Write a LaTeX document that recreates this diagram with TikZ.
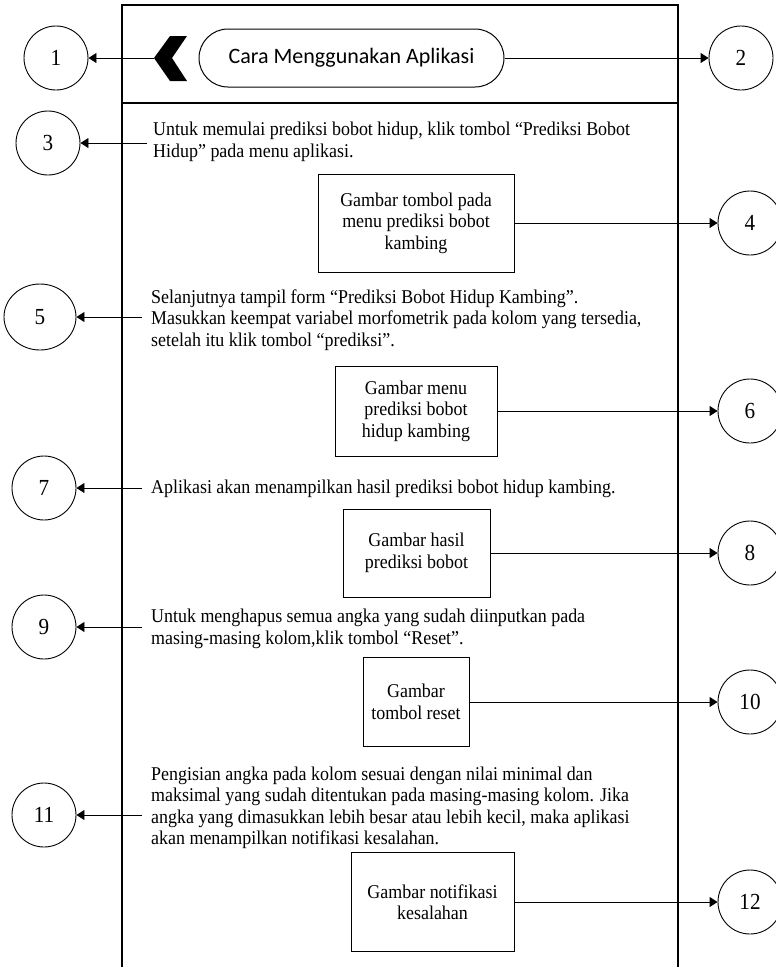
\documentclass[tikz,border=0pt]{standalone}
\usepackage{fontspec}
\setmainfont[FakeStretch=0.92]{Liberation Serif}
\newfontfamily\hdrfont{Carlito}
\usetikzlibrary{arrows.meta,shapes.geometric}
\begin{document}
\begin{tikzpicture}[x=1pt,y=-1pt,
  frameline/.style={line width=1.3pt},
  num/.style={draw, circle, minimum size=64pt, inner sep=0pt, line width=0.9pt, font=\fontsize{23}{25}\selectfont},
  imgbox/.style={draw, rectangle, line width=1pt, align=center, inner sep=0pt, font=\fontsize{19.5}{21.5}\selectfont},
  desc/.style={anchor=west, align=left, inner sep=0pt, font=\fontsize{19.5}{21.5}\selectfont},
  conn/.style={line width=0.9pt, -{Triangle[length=8pt,width=10pt]}},
]
\useasboundingbox (0,0) rectangle (776,967);
\clip (0,0) rectangle (776,967);

% phone frame
\draw[frameline] (122,967) -- (122,5) -- (678,5) -- (678,967);
\draw[frameline] (122,103) -- (678,103);

% header
\fill (170,36) -- (187,36) -- (172,58) -- (187,81) -- (170,81) -- (154,58) -- cycle;
\coordinate (chev) at (154,58);
\node[draw, line width=1pt, rounded corners=29pt, minimum width=305pt, minimum height=58pt,
      font=\hdrfont\fontsize{22}{24}\selectfont] (title) at (351.5,58) {Cara Menggunakan Aplikasi};

% numbered circles
\node[num] (c1) at (56,58) {1};
\node[num] (c2) at (741,58) {2};
\node[num] (c3) at (48,143) {3};
\node[num, shape=ellipse, minimum width=72pt, minimum height=66pt] (c5) at (40,317) {5};
\node[num] (c7) at (44,488) {7};
\node[num] (c9) at (44,627) {9};
\node[num] (c11) at (44,815) {11};
\node[num] (c4) at (750,223) {4};
\node[num] (c6) at (750,411) {6};
\node[num] (c8) at (750,553) {8};
\node[num] (c10) at (750,702) {10};
\node[num] (c12) at (750,902) {12};

% descriptions
\node[desc] (t3) at (153,142) {Untuk memulai prediksi bobot hidup, klik tombol “Prediksi Bobot\\Hidup” pada menu aplikasi.};
\node[desc] (t5) at (151,320) {Selanjutnya tampil form “Prediksi Bobot Hidup Kambing”.\\Masukkan keempat variabel morfometrik pada kolom yang tersedia,\\setelah itu klik tombol “prediksi”.};
\node[desc] (t7) at (151,489) {Aplikasi akan menampilkan hasil prediksi bobot hidup kambing.};
\node[desc] (t9) at (151,629) {Untuk menghapus semua angka yang sudah diinputkan pada\\masing-masing kolom,klik tombol “Reset”.};
\node[desc] (t11) at (151,808) {Pengisian angka pada kolom sesuai dengan nilai minimal dan\\maksimal yang sudah ditentukan pada masing-masing kolom. Jika\\angka yang dimasukkan lebih besar atau lebih kecil, maka aplikasi\\akan menampilkan notifikasi kesalahan.};

% image boxes
\node[imgbox, minimum width=196pt, minimum height=98pt] (b4) at (416,223) {Gambar tombol pada\\menu prediksi bobot\\kambing};
\node[imgbox, minimum width=162pt, minimum height=90pt] (b6) at (416,411) {Gambar menu\\prediksi bobot\\hidup kambing};
\node[imgbox, minimum width=147pt, minimum height=88pt] (b8) at (416.5,553) {Gambar hasil\\prediksi bobot};
\node[imgbox, minimum width=106pt, minimum height=89pt] (b10) at (416,702) {Gambar\\tombol reset};
\node[imgbox, minimum width=163pt, minimum height=99pt] (b12) at (432.5,902) {Gambar notifikasi\\kesalahan};

% arrow starts on the left
\coordinate (s3) at (147,143);
\coordinate (s5) at (142,317);
\coordinate (s7) at (142,488);
\coordinate (s9) at (142,627);
\coordinate (s11) at (142,815);

% connectors
\draw[conn] (chev) -- (c1);
\draw[conn] (title) -- (c2);
\draw[conn] (s3) -- (c3);
\draw[conn] (s5) -- (c5);
\draw[conn] (s7) -- (c7);
\draw[conn] (s9) -- (c9);
\draw[conn] (s11) -- (c11);
\draw[conn] (b4) -- (c4);
\draw[conn] (b6) -- (c6);
\draw[conn] (b8) -- (c8);
\draw[conn] (b10) -- (c10);
\draw[conn] (b12) -- (c12);
\end{tikzpicture}
\end{document}
